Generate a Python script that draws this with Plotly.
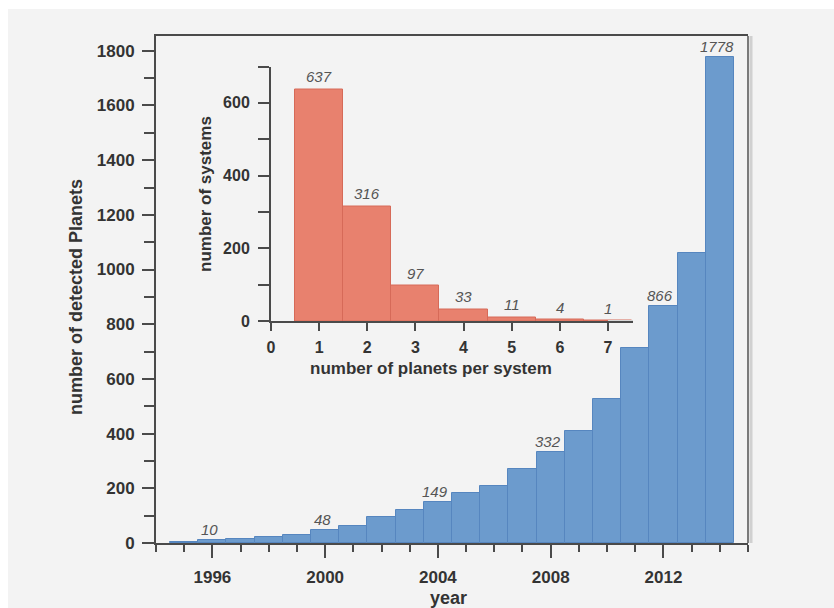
import plotly.graph_objects as go

# ---- data ----
years = list(range(1995, 2015))
planets_cum = [5, 10, 13, 21, 29, 48, 62, 95, 119, 149, 182, 208, 269, 332, 411, 525, 714, 866, 1060, 1778]
label_years = [1996, 2000, 2004, 2008, 2012, 2014]

n_planets = [1, 2, 3, 4, 5, 6, 7]
n_systems = [637, 316, 97, 33, 11, 4, 1]

main_y_ticks = [0, 200, 400, 600, 800, 1000, 1200, 1400, 1600, 1800]
main_x_ticks = [1996, 2000, 2004, 2008, 2012]
inset_y_ticks = [0, 200, 400, 600]
inset_x_ticks = [0, 1, 2, 3, 4, 5, 6, 7]

# ---- layout geometry (pixels) ----
W, H = 834, 608
L, R, T, B = 156, 86, 36, 65
PW, PH = W - L - R, H - T - B


def px_x(p):
    return (p - L) / PW


def px_y(p):
    return (H - B - p) / PH


FONT = "Liberation Sans, Arial, Helvetica, sans-serif"
AX = "#4a4a4a"
TXT = "#333333"
BLUE = "rgb(108,155,205)"
BLUE_EDGE = "rgb(86,134,191)"
RED = "rgb(232,129,110)"
RED_EDGE = "rgb(214,106,88)"

fig = go.Figure()

fig.add_trace(go.Bar(
    x=years, y=planets_cum, width=1,
    marker=dict(color=BLUE, line=dict(color=BLUE_EDGE, width=1)),
    xaxis="x", yaxis="y", showlegend=False, hoverinfo="x+y",
))

fig.add_trace(go.Bar(
    x=n_planets, y=n_systems, width=1,
    marker=dict(color=RED, line=dict(color=RED_EDGE, width=1)),
    xaxis="x2", yaxis="y2", showlegend=False, hoverinfo="x+y",
))

annotations = []
for yr in label_years:
    v = planets_cum[years.index(yr)]
    annotations.append(dict(
        x=yr, y=v, xref="x", yref="y", text=str(v), showarrow=False,
        yanchor="bottom", yshift=0, xshift=-3,
        font=dict(family=FONT, size=15, color="#555555", style="italic"),
    ))
for p, s in zip(n_planets, n_systems):
    annotations.append(dict(
        x=p, y=s, xref="x2", yref="y2", text=str(s), showarrow=False,
        yanchor="bottom", yshift=2,
        font=dict(family=FONT, size=15, color="#555555", style="italic"),
    ))

# axis titles
annotations += [
    dict(x=px_x(448), y=px_y(598), xref="paper", yref="paper", text="<b>year</b>",
         showarrow=False, xanchor="center", yanchor="middle",
         font=dict(family=FONT, size=18, color=TXT)),
    dict(x=px_x(76), y=px_y(297), xref="paper", yref="paper",
         text="<b>number of detected Planets</b>", textangle=-90,
         showarrow=False, xanchor="center", yanchor="middle",
         font=dict(family=FONT, size=18, color=TXT)),
    dict(x=px_x(431), y=px_y(368), xref="paper", yref="paper",
         text="<b>number of planets per system</b>",
         showarrow=False, xanchor="center", yanchor="middle",
         font=dict(family=FONT, size=17, color=TXT)),
    dict(x=px_x(205), y=px_y(194), xref="paper", yref="paper",
         text="<b>number of systems</b>", textangle=-90,
         showarrow=False, xanchor="center", yanchor="middle",
         font=dict(family=FONT, size=17, color=TXT)),
]

shapes = [
    # grey background panel
    dict(type="rect", xref="paper", yref="paper", layer="below",
         x0=px_x(8), x1=px_x(W + 5), y0=px_y(H + 5), y1=px_y(9),
         fillcolor="#f3f3f3", line=dict(width=0)),
    # right frame line (grey, with faint shadow)
    dict(type="line", xref="paper", yref="paper", layer="above",
         x0=px_x(751), x1=px_x(751), y0=0, y1=1,
         line=dict(color="#d0d0d0", width=3)),
    dict(type="line", xref="paper", yref="paper", layer="above",
         x0=1, x1=1, y0=0, y1=1,
         line=dict(color="#7a7a7a", width=2)),
    # light extension of inset baseline
    dict(type="line", xref="x2", yref="y2", layer="above",
         x0=7.0, x1=7.52, y0=0, y1=0,
         line=dict(color="#d8d8d8", width=2)),
]

fig.update_layout(
    width=W, height=H,
    margin=dict(l=L, r=R, t=T, b=B, pad=0),
    paper_bgcolor="white", plot_bgcolor="rgba(0,0,0,0)",
    bargap=0, showlegend=False,
    font=dict(family=FONT, color=TXT),
    annotations=annotations, shapes=shapes,
    xaxis=dict(
        domain=[0, 1], range=[1994, 2015], tickmode="array", tickvals=main_x_ticks,
        ticktext=[f"<b>{v}</b>" for v in main_x_ticks],
        ticks="outside", ticklen=13, tickwidth=2, tickcolor=AX,
        minor=dict(dtick=1, tick0=1994, ticks="outside", ticklen=7, tickwidth=2, tickcolor=AX),
        showline=True, linecolor=AX, linewidth=2, mirror=True,
        showgrid=False, zeroline=False, ticklabelstandoff=5,
        tickfont=dict(family=FONT, size=17, color=TXT), fixedrange=True,
    ),
    yaxis=dict(
        domain=[0, 1], range=[0, 1854], tickmode="array", tickvals=main_y_ticks,
        ticktext=[f"<b>{v}</b>" for v in main_y_ticks],
        ticks="outside", ticklen=12, tickwidth=2, tickcolor=AX,
        minor=dict(dtick=100, tick0=0, ticks="outside", ticklen=10, tickwidth=2, tickcolor=AX),
        showline=True, linecolor=AX, linewidth=2, mirror=False,
        showgrid=False, zeroline=False, ticklabelstandoff=4,
        tickfont=dict(family=FONT, size=17, color=TXT), fixedrange=True,
    ),
    xaxis2=dict(
        domain=[px_x(271), px_x(633)], anchor="y2", range=[0, 7.52],
        tickmode="array", tickvals=inset_x_ticks,
        ticktext=[f"<b>{v}</b>" for v in inset_x_ticks],
        ticks="outside", ticklen=8, tickwidth=2, tickcolor=AX,
        showline=True, linecolor=AX, linewidth=2,
        showgrid=False, zeroline=False, ticklabelstandoff=3,
        tickfont=dict(family=FONT, size=16, color=TXT), fixedrange=True,
    ),
    yaxis2=dict(
        domain=[px_y(321), px_y(66.5)], anchor="x2", range=[0, 700],
        tickmode="array", tickvals=inset_y_ticks,
        ticktext=[f"<b>{v}</b>" for v in inset_y_ticks],
        ticks="outside", ticklen=11, tickwidth=2, tickcolor=AX,
        minor=dict(dtick=100, tick0=0, ticks="outside", ticklen=11, tickwidth=2, tickcolor=AX),
        showline=True, linecolor=AX, linewidth=2,
        showgrid=False, zeroline=False, ticklabelstandoff=5,
        tickfont=dict(family=FONT, size=16, color=TXT), fixedrange=True,
    ),
)

fig.write_html("out.html")
